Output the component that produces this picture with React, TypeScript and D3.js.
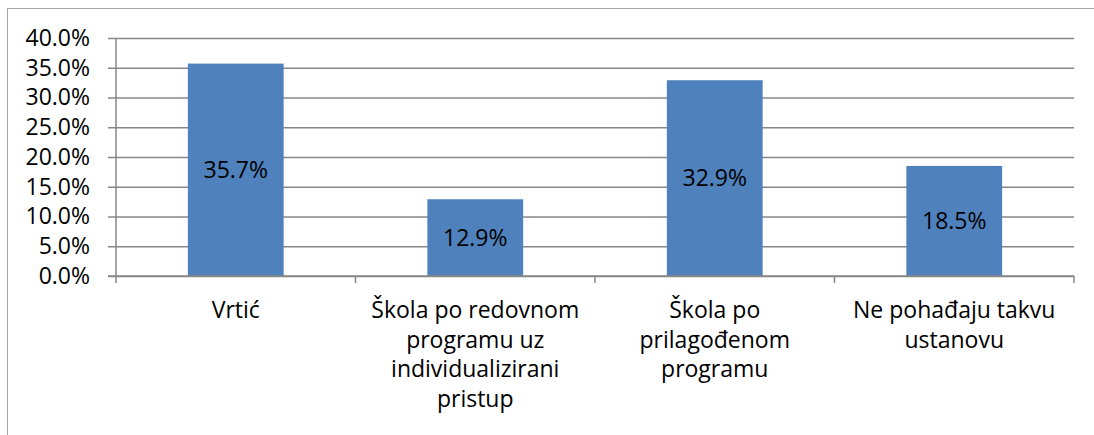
import React, { useEffect, useRef } from "react";
import * as d3 from "d3";

const categories = [
  "Vrtić",
  "Škola po redovnom programu uz individualizirani pristup",
  "Škola po prilagođenom programu",
  "Ne pohađaju takvu ustanovu",
];

// wrapped lines for the category axis, as they appear in the chart
const categoryLines = [
  ["Vrtić"],
  ["Škola po redovnom", "programu uz", "individualizirani", "pristup"],
  ["Škola po", "prilagođenom", "programu"],
  ["Ne pohađaju takvu", "ustanovu"],
];

const values = [0.357, 0.129, 0.329, 0.185];

const yTicks = [0, 0.05, 0.1, 0.15, 0.2, 0.25, 0.3, 0.35, 0.4];

export default function App() {
  const ref = useRef<SVGSVGElement>(null);

  useEffect(() => {
    const width = 1094;
    const height = 435;
    const marginLeft = 116;
    const marginRight = 20;
    const marginTop = 38;
    const plotBottom = 276;
    const font = "'Open Sans', sans-serif";
    const gridColor = "#878787";

    const svg = d3.select(ref.current);
    svg.selectAll("*").remove();
    svg.attr("width", width).attr("height", height);

    // outer chart frame (cut off at the right and bottom)
    svg
      .append("rect")
      .attr("x", 7.5)
      .attr("y", 8.5)
      .attr("width", width + 20)
      .attr("height", height + 20)
      .attr("fill", "white")
      .attr("stroke", "#a6a6a6")
      .attr("stroke-width", 1);

    const x = d3
      .scaleBand<string>()
      .domain(categories)
      .range([marginLeft, width - marginRight])
      .paddingInner(0.6)
      .paddingOuter(0.3);

    const xOuter = d3
      .scaleBand<string>()
      .domain(categories)
      .range([marginLeft, width - marginRight]);

    const y = d3.scaleLinear().domain([0, 0.4]).range([plotBottom, marginTop]);

    // y axis with gridlines
    const yAxis = svg
      .append("g")
      .attr("transform", `translate(${marginLeft},0)`)
      .call(
        d3
          .axisLeft(y)
          .tickValues(yTicks)
          .tickFormat((d) => d3.format(".1%")(d as number))
          .tickSize(8)
          .tickPadding(18)
      );
    yAxis.select(".domain").remove();
    yAxis
      .selectAll(".tick line")
      .attr("stroke", gridColor)
      .attr("stroke-width", 1.5);
    yAxis
      .selectAll(".tick")
      .append("line")
      .attr("x1", 0)
      .attr("x2", width - marginRight - marginLeft)
      .attr("stroke", gridColor)
      .attr("stroke-width", 1.5);
    yAxis
      .selectAll(".tick text")
      .attr("font-family", font)
      .attr("font-size", 23)
      .attr("fill", "#000");

    // vertical axis line
    svg
      .append("line")
      .attr("x1", marginLeft)
      .attr("x2", marginLeft)
      .attr("y1", marginTop)
      .attr("y2", plotBottom + 7)
      .attr("stroke", gridColor)
      .attr("stroke-width", 1.5);

    // category tick marks between bands
    svg
      .append("g")
      .selectAll("line")
      .data(categories)
      .join("line")
      .attr("x1", (d) => (xOuter(d) ?? 0) + xOuter.bandwidth())
      .attr("x2", (d) => (xOuter(d) ?? 0) + xOuter.bandwidth())
      .attr("y1", plotBottom)
      .attr("y2", plotBottom + 7)
      .attr("stroke", gridColor)
      .attr("stroke-width", 1.5);

    // bars
    svg
      .append("g")
      .selectAll("rect")
      .data(values)
      .join("rect")
      .attr("x", (_, i) => x(categories[i]) ?? 0)
      .attr("y", (d) => y(d))
      .attr("width", x.bandwidth())
      .attr("height", (d) => plotBottom - y(d))
      .attr("fill", "#4f81bd");

    // bottom axis line, drawn over bars
    svg
      .append("line")
      .attr("x1", marginLeft - 8)
      .attr("x2", width - marginRight)
      .attr("y1", plotBottom)
      .attr("y2", plotBottom)
      .attr("stroke", gridColor)
      .attr("stroke-width", 1.5);

    // data labels in the middle of bars
    svg
      .append("g")
      .selectAll("text")
      .data(values)
      .join("text")
      .attr("x", (_, i) => (x(categories[i]) ?? 0) + x.bandwidth() / 2)
      .attr("y", (d) => (y(d) + plotBottom) / 2)
      .attr("dy", "0.35em")
      .attr("text-anchor", "middle")
      .attr("font-family", font)
      .attr("font-size", 23)
      .attr("fill", "#000")
      .text((d) => d3.format(".1%")(d));

    // category labels
    const labels = svg
      .append("g")
      .selectAll("text")
      .data(categoryLines)
      .join("text")
      .attr("text-anchor", "middle")
      .attr("font-family", font)
      .attr("font-size", 23)
      .attr("fill", "#000")
      .attr("transform", (_, i) => {
        const cx = (xOuter(categories[i]) ?? 0) + xOuter.bandwidth() / 2;
        return `translate(${cx},${plotBottom + 42})`;
      });
    labels
      .selectAll("tspan")
      .data((d) => d)
      .join("tspan")
      .attr("x", 0)
      .attr("y", (_, j) => j * 29.5)
      .text((d) => d);
  }, []);

  return (
    <div style={{ position: "absolute", left: 0, top: 0 }}>
      <svg ref={ref} style={{ display: "block" }} />
    </div>
  );
}
